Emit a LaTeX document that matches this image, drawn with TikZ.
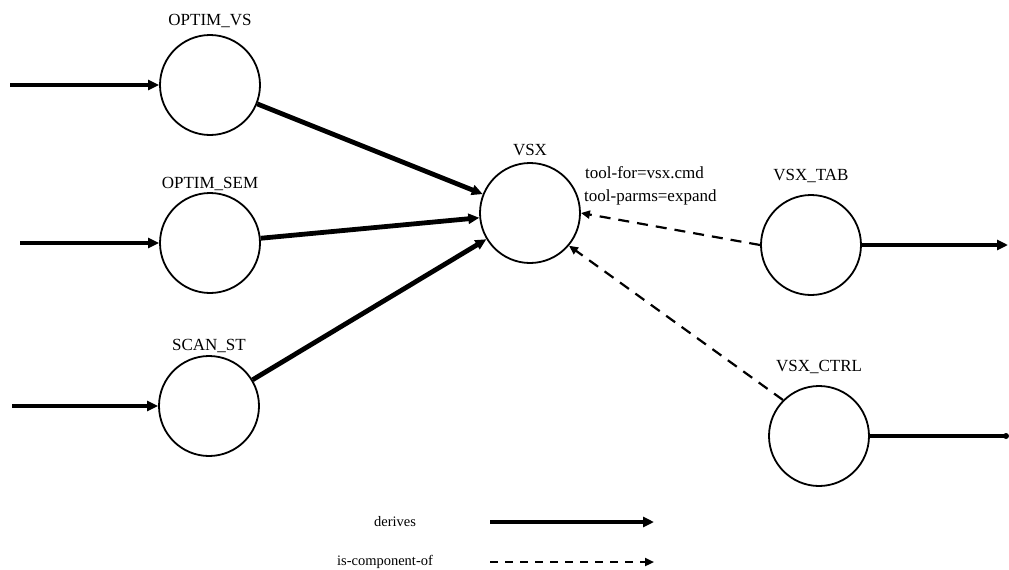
\documentclass[tikz,border=0pt]{standalone}
\usepackage{fontspec}
\setmainfont{Liberation Serif}
\usetikzlibrary{arrows.meta}
\begin{document}
\begin{tikzpicture}[x=1pt,y=-1pt,
  proc/.style={circle,draw,line width=1.8pt,minimum size=100pt,inner sep=0pt},
  lbl/.style={font=\fontsize{17}{19}\selectfont,inner sep=0pt},
  keylbl/.style={font=\fontsize{14.5}{16}\selectfont,inner sep=0pt},
  derives/.style={line width=4.8pt,-{Triangle[length=11pt,width=10pt]}},
  component/.style={line width=2.2pt,dash pattern=on 11pt off 8pt,-{Triangle[length=9pt,width=8pt]}},
  keycomponent/.style={line width=2.2pt,dash pattern=on 8pt off 7pt,-{Triangle[length=9pt,width=8pt]}},
  plainline/.style={line width=4.8pt}]
\useasboundingbox (0,0) rectangle (1009,570);

% processes
\node[proc] (ovs) at (210,85) {};
\node[proc] (osem) at (210,243) {};
\node[proc] (scan) at (209,406) {};
\node[proc] (vsx) at (530,213) {};
\node[proc] (tab) at (811,245) {};
\node[proc] (ctrl) at (819,436) {};

% names
\node[lbl] (lovs) at (210,21) {OPTIM\_VS};
\node[lbl] (losem) at (210,184) {OPTIM\_SEM};
\node[lbl] (lscan) at (209,346) {SCAN\_ST};
\node[lbl] (lvsx) at (530,150) {VSX};
\node[lbl] (ltab) at (811,176) {VSX\_TAB};
\node[lbl] (lctrl) at (819,367) {VSX\_CTRL};
\node[lbl,anchor=west] (attr1) at (585,173) {tool-for=vsx.cmd};
\node[lbl,anchor=west] (attr2) at (584,197) {tool-parms=expand};

% free ends
\coordinate (inovs) at (10,85);
\coordinate (inosem) at (20,243);
\coordinate (inscan) at (12,406);
\coordinate (outtab) at (1008,245);
\coordinate (outctrl) at (1006,436);

% derives
\draw[derives] (inovs) -- (ovs);
\draw[derives] (inosem) -- (osem);
\draw[derives] (inscan) -- (scan);
\draw[derives] (ovs) -- (vsx);
\draw[derives] (osem) -- (vsx);
\draw[derives] (scan) -- (vsx);
\draw[derives] (tab) -- (outtab);
\draw[plainline] (ctrl) -- (outctrl);
\fill (outctrl) circle (3pt);

% is-component-of
\draw[component] (tab.west) -- (vsx.east);
\draw[component] (ctrl.135) -- (vsx.-40);

% legend
\node[keylbl] (lder) at (395,522) {derives};
\node[keylbl] (lcomp) at (385,562) {is-component-of};
\coordinate (d1) at (490,522);
\coordinate (d2) at (654,522);
\coordinate (c1) at (490,562);
\coordinate (c2) at (654,562);
\draw[derives] (d1) -- (d2);
\draw[keycomponent] (c1) -- (c2);
\end{tikzpicture}
\end{document}
